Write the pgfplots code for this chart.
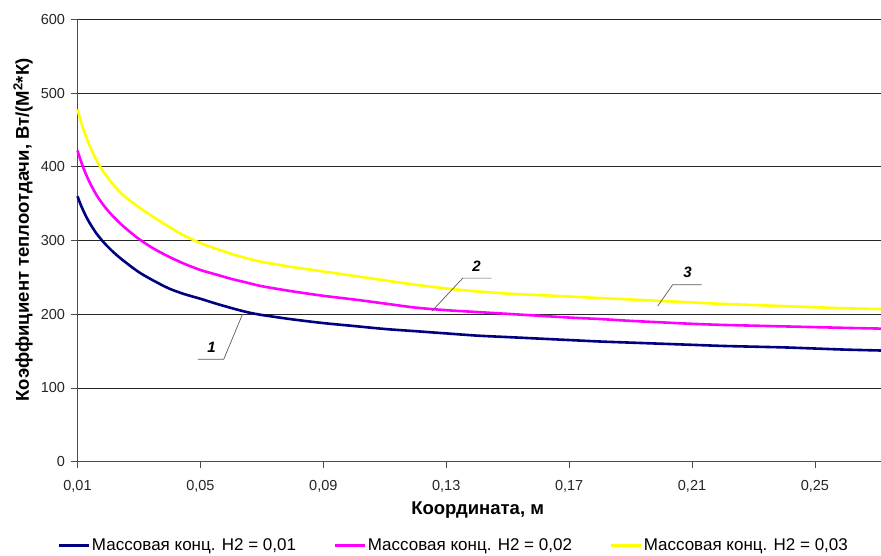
\documentclass[border=0pt]{standalone}
\usepackage{pgfplots}
\pgfplotsset{compat=1.18}
\usepackage{fontspec}
\setmainfont{Liberation Sans}
\definecolor{cblue}{RGB}{0,0,128}
\definecolor{cmag}{RGB}{255,0,255}
\definecolor{cyel}{RGB}{255,255,0}
\begin{document}
\begin{tikzpicture}
\useasboundingbox (-77.5pt,-94.3pt) rectangle (803.5pt,461.7pt);
\begin{axis}[
  scale only axis, width=803.5pt, height=442.4pt,
  xmin=0.01, xmax=0.2715, ymin=0, ymax=600,
  axis x line*=bottom, axis y line*=left,
  axis line style={black!70, line width=0.9pt, -},
  xtick={0.01,0.05,0.09,0.13,0.17,0.21,0.25},
  xticklabels={{0,01},{0,05},{0,09},{0,13},{0,17},{0,21},{0,25}},
  ytick={0,100,200,300,400,500,600},
  tick align=outside, major tick length=6pt,
  tick style={black!70, line width=0.8pt},
  ymajorgrids, grid style={black!85, line width=0.8pt},
  /pgf/number format/assume math mode=true,
  tick label style={font=\fontsize{14.5}{16}\selectfont, text=black!85},
  xticklabel style={yshift=-9pt},
  yticklabel style={xshift=-3pt},
  xlabel={Координата, м},
  ylabel={Коэффициент теплоотдачи, Вт/(М\textsuperscript{2}*К)},
  label style={font=\bfseries\fontsize{18.5}{20}\selectfont},
  xlabel style={at={(axis description cs:0.498,-0.109)}, anchor=center},
  ylabel style={at={(axis description cs:-0.0678,0.524)}, anchor=center},
  legend style={draw=none, fill=none, legend columns=3,
    at={(axis description cs:0.468,-0.19)}, anchor=center,
    font=\fontsize{17}{19}\selectfont,
    /tikz/every even column/.append style={column sep=36pt},
    nodes={inner sep=1.5pt}},
  legend image code/.code={\draw[#1, line width=2.8pt] (0pt,0pt) -- (30pt,0pt);},
  clip=false,
]
\addplot[cblue, line width=2.6pt, smooth] coordinates {
(0.010,360) (0.011,349) (0.012,339.5) (0.013,331) (0.014,323.5) (0.016,310.5) (0.018,300) (0.020,291) (0.022,283) (0.025,272.5) (0.030,257) (0.035,245) (0.040,234.5) (0.045,227) (0.050,221) (0.055,214.5) (0.060,208.5) (0.065,203) (0.070,199) (0.080,193) (0.090,188) (0.100,184) (0.110,180) (0.120,177) (0.130,174) (0.140,171) (0.150,169) (0.160,167) (0.170,165) (0.180,163) (0.190,161.5) (0.200,160) (0.210,158.5) (0.220,157) (0.230,156) (0.240,155) (0.250,153.5) (0.260,152) (0.2715,150.8)
};
\addlegendentry{Массовая конц. H2 = 0,01}
\addplot[cmag, line width=2.6pt, smooth] coordinates {
(0.010,422) (0.011,409) (0.012,397.5) (0.013,387.5) (0.014,378.5) (0.016,363) (0.018,350.5) (0.020,340) (0.022,331) (0.025,319) (0.030,302) (0.035,288.5) (0.040,277.5) (0.045,268) (0.050,260) (0.055,254) (0.060,248) (0.065,243) (0.070,238) (0.080,231) (0.090,225) (0.100,220) (0.110,214.5) (0.120,209) (0.130,205.5) (0.140,203) (0.150,200.5) (0.160,198) (0.170,195.5) (0.180,193.5) (0.190,191) (0.200,189) (0.210,187) (0.220,185.5) (0.230,184.5) (0.240,183.5) (0.250,182.5) (0.260,181.5) (0.2715,180.5)
};
\addlegendentry{Массовая конц. H2 = 0,02}
\addplot[cyel, line width=2.6pt, smooth] coordinates {
(0.010,478) (0.011,463) (0.012,450) (0.013,438.5) (0.014,428) (0.016,410.5) (0.018,396) (0.020,384.5) (0.022,374) (0.025,361) (0.030,345) (0.035,331) (0.040,318) (0.045,306) (0.050,296.5) (0.055,289) (0.060,282) (0.065,276) (0.070,271) (0.080,264) (0.090,258) (0.100,252) (0.110,246) (0.120,240) (0.130,235) (0.140,231) (0.150,228) (0.160,226) (0.170,224) (0.180,222) (0.190,220) (0.200,218) (0.210,216) (0.220,214) (0.230,212.5) (0.240,211) (0.250,209.5) (0.260,208) (0.2715,207)
};
\addlegendentry{Массовая конц. H2 = 0,03}
% annotations
\draw[black!65, line width=0.7pt] (axis cs:0.0492,139) -- (axis cs:0.0576,139) -- (axis cs:0.0637,200);
\node[font=\bfseries\itshape\fontsize{15}{17}\selectfont] at (axis cs:0.0536,155) {1};
\draw[black!65, line width=0.7pt] (axis cs:0.1448,249) -- (axis cs:0.1354,249) -- (axis cs:0.1253,204);
\node[font=\bfseries\itshape\fontsize{15}{17}\selectfont] at (axis cs:0.1399,265) {2};
\draw[black!65, line width=0.7pt] (axis cs:0.2131,240) -- (axis cs:0.2037,240) -- (axis cs:0.1988,211);
\node[font=\bfseries\itshape\fontsize{15}{17}\selectfont] at (axis cs:0.2085,257) {3};
\end{axis}
\end{tikzpicture}
\end{document}
